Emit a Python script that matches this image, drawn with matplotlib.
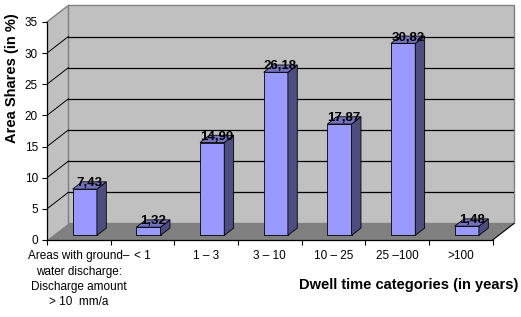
import numpy as np
import matplotlib
matplotlib.use('Agg')
import matplotlib.pyplot as plt
from matplotlib.patches import Polygon

plt.rcParams['font.family'] = ['Liberation Sans', 'DejaVu Sans']

# data
categories = ['Areas with ground\u2013\nwater discharge:\nDischarge amount\n> 10  mm/a',
              '< 1', '1 \u2013 3', '3 \u2013 10', '10 \u2013 25', '25 \u2013100', '>100']
values = [7.43, 1.32, 14.90, 26.18, 17.87, 30.82, 1.48]
yticks = [0, 5, 10, 15, 20, 25, 30, 35]

# fake 3d geometry (excel style)
YMAX = 35
DX, DY = 0.335, 2.65     # depth offset of the back wall in data units
f0, fd = 0.28, 0.44      # bar start and depth as fraction of the depth
w = 0.38                 # bar width
n = len(values)

fig = plt.figure(figsize=(5.21, 3.17), dpi=100)
ax = fig.add_axes([47/521, 77/317, 467/521, 234.6/317])
ax.set_xlim(0, n + DX)
ax.set_ylim(0, YMAX + DY)
ax.set_facecolor('none')

wall = '#C0C0C0'
edge = '#808080'
ax.add_patch(Polygon([(0, 0), (0, YMAX), (DX, YMAX + DY), (DX, DY)],
                     fc=wall, ec='none', zorder=0.2, clip_on=False))
ax.add_patch(Polygon([(DX, DY), (n + DX, DY), (n + DX, YMAX + DY), (DX, YMAX + DY)],
                     fc=wall, ec=edge, lw=1, zorder=0.2, clip_on=False))
ax.plot([0, DX], [YMAX, YMAX + DY], color=edge, lw=1, zorder=0.3, clip_on=False)

# gridlines on back and side wall
for y in yticks[1:-1]:
    ax.plot([DX, n + DX], [y + DY, y + DY], color='black', lw=0.9, zorder=0.4)
    ax.plot([0, DX], [y, y + DY], color='black', lw=0.7, zorder=0.4)

# floor
ax.add_patch(Polygon([(0, 0), (n, 0), (n + DX, DY), (DX, DY)],
                     fc='#808080', ec='none', zorder=0.5, clip_on=False))
ax.plot([n, n + DX], [0, DY], color='black', lw=0.8, zorder=0.6, clip_on=False)

# bars
x0 = np.arange(n) + 0.5 - w / 2 + f0 * DX
y0 = f0 * DY
ax.bar(x0, values, width=w, bottom=y0, align='edge', color='#9999FF',
       edgecolor='black', lw=0.6, zorder=2)
for xi, v in zip(x0, values):
    side = [(xi + w, y0), (xi + w + fd * DX, y0 + fd * DY),
            (xi + w + fd * DX, y0 + v + fd * DY), (xi + w, y0 + v)]
    top = [(xi, y0 + v), (xi + w, y0 + v),
           (xi + w + fd * DX, y0 + v + fd * DY), (xi + fd * DX, y0 + v + fd * DY)]
    ax.add_patch(Polygon(side, fc='#4D4D80', ec='black', lw=0.6, zorder=2))
    ax.add_patch(Polygon(top, fc='#7373BF', ec='black', lw=0.6, zorder=2))
    ax.annotate(f'{v:.2f}'.replace('.', ','), xy=(xi + w / 2 + fd * DX / 2, y0 + v),
                xytext=(0, 2), textcoords='offset points', ha='center', va='baseline',
                fontsize=9.5, fontweight='bold', zorder=3)

# axes
for s in ['top', 'right']:
    ax.spines[s].set_visible(False)
ax.spines['left'].set_bounds(0, YMAX)
ax.spines['bottom'].set_bounds(0, n)
ax.spines['left'].set_linewidth(0.9)
ax.spines['bottom'].set_linewidth(0.9)

ax.set_yticks(yticks)
ax.tick_params(axis='y', length=3.5, width=0.8, pad=3, labelsize=8.5)
ax.set_xticks(range(n + 1))
ax.set_xticklabels([])
ax.set_xticks(np.arange(n) + 0.5, minor=True)
ax.set_xticklabels(categories, minor=True, fontsize=8.5, linespacing=1.35)
ax.tick_params(axis='x', which='major', length=3.5, width=0.8)
ax.tick_params(axis='x', which='minor', length=0, pad=7.5)

ax.set_ylabel('Area Shares (in %)', fontsize=10.5, fontweight='bold', va='center')
ax.yaxis.set_label_coords(-0.074, 0.69)
ax.set_xlabel('Dwell time categories (in years)', fontsize=10.5, fontweight='bold', va='center')
ax.xaxis.set_label_coords(0.775, -0.192)

fig.savefig('out.png', dpi=100)
